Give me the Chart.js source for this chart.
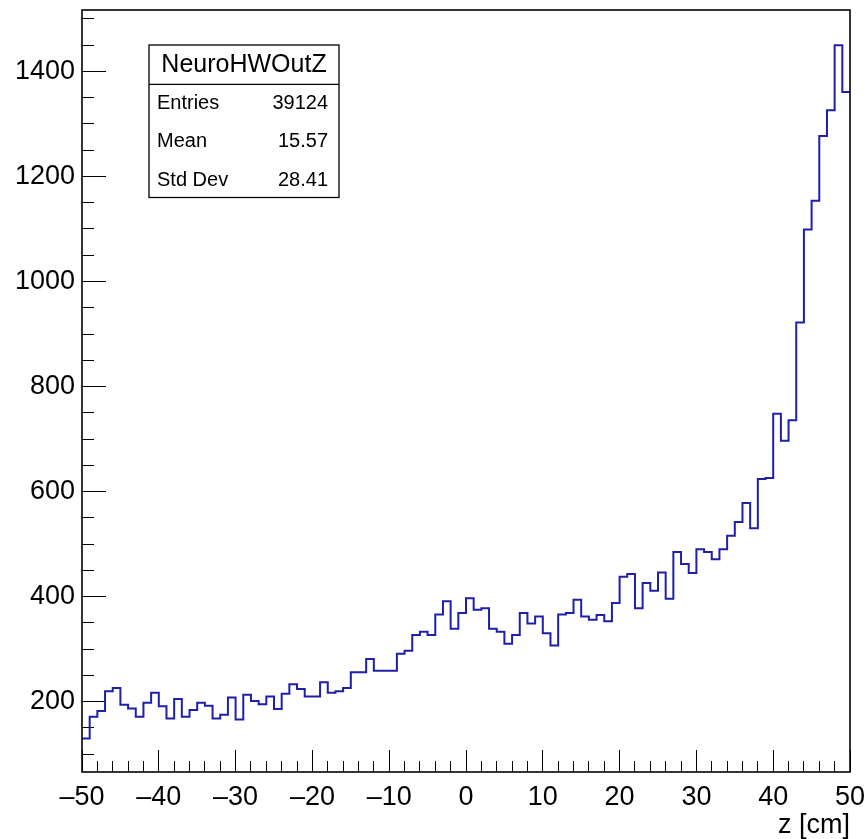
<!DOCTYPE html>
<html>
<head>
<meta charset="utf-8">
<title>NeuroHWOutZ</title>
<script src="https://cdn.jsdelivr.net/npm/chart.js@4.4.1/dist/chart.umd.min.js"></script>
<style>
html, body { margin: 0; padding: 0; background: #ffffff; }
#wrap { width: 867px; height: 839px; }
</style>
</head>
<body>
<div id="wrap"><canvas id="myChart" width="867" height="839"></canvas></div>
<script>
/* ---------- DATA ---------- */

const histName = "NeuroHWOutZ";
const zLow = -50;
const zHigh = 50;

// bin contents, 100 bins of 1 cm from -50 to 50
const counts = [
  130, 171, 182, 220, 226, 194, 187, 171, 198, 217,
  191, 168, 205, 171, 184, 198, 192, 168, 175, 208,
  166, 213, 201, 195, 210, 186, 215, 233, 224, 210,
  210, 237, 217, 220, 226, 256, 256, 281, 259, 259,
  259, 291, 297, 327, 333, 327, 366, 391, 339, 369,
  397, 375, 378, 339, 333, 310, 327, 369, 349, 362,
  330, 307, 366, 369, 394, 362, 356, 365, 353, 388,
  438, 443, 378, 426, 411, 446, 396, 485, 462, 445,
  490, 485, 471, 490, 516, 542, 578, 530, 624, 626,
  748, 697, 736, 922, 1099, 1154, 1277, 1326, 1450, 1361
];

const statLabels = ["Entries", "Mean", "Std Dev"];
const statValues = ["39124", "15.57", "28.41"];

const xMajorTicks = [-50, -40, -30, -20, -10, 0, 10, 20, 30, 40, 50];
const xTickLabels = ["\u201350", "\u201340", "\u201330", "\u201320", "\u201310", "0", "10", "20", "30", "40", "50"];
const yMajorTicks = [200, 400, 600, 800, 1000, 1200, 1400];
const yTickLabels = ["200", "400", "600", "800", "1000", "1200", "1400"];
const yMinorTicks = [100, 150, 200, 250, 300, 350, 400, 450, 500, 550, 600, 650, 700, 750,
  800, 850, 900, 950, 1000, 1050, 1100, 1150, 1200, 1250, 1300, 1350, 1400, 1450, 1500];

const xTitle = "z [cm]";
const yRange = [66, 1517];

/* ---------- BUILD POINTS ---------- */

const binWidth = (zHigh - zLow) / counts.length;
const points = counts.map((c, i) => ({ x: zLow + i * binWidth, y: c }));
points.push({ x: zHigh, y: counts[counts.length - 1] });

const FONT = "'Liberation Sans', Arial, Helvetica, sans-serif";
const lineColor = "#1f1faa";

/* ---------- PLUGINS ---------- */

const frameBox = {
  id: "frameBox",
  afterDraw(chart) {
    const { ctx, chartArea } = chart;
    ctx.save();
    ctx.strokeStyle = "#000";
    ctx.lineWidth = 1.6;
    ctx.strokeRect(chartArea.left, chartArea.top, chartArea.right - chartArea.left, chartArea.bottom - chartArea.top);
    ctx.restore();
  }
};

const statsBox = {
  id: "statsBox",
  afterDraw(chart) {
    const ctx = chart.ctx;
    const x0 = 149, y0 = 45, w = 190, h = 152.5;
    ctx.save();
    ctx.fillStyle = "#fff";
    ctx.fillRect(x0, y0, w, h);
    ctx.strokeStyle = "#000";
    ctx.lineWidth = 1.3;
    ctx.strokeRect(x0, y0, w, h);
    ctx.beginPath();
    ctx.moveTo(x0, 84.3);
    ctx.lineTo(x0 + w, 84.3);
    ctx.stroke();

    ctx.fillStyle = "#000";
    ctx.textBaseline = "middle";
    ctx.font = "25px " + FONT;
    ctx.textAlign = "center";
    ctx.fillText(histName, x0 + w / 2, 65);

    ctx.font = "20px " + FONT;
    const rowY = [103, 141, 180];
    statLabels.forEach((lab, i) => {
      ctx.textAlign = "left";
      ctx.fillText(lab, 157, rowY[i]);
      ctx.textAlign = "right";
      ctx.fillText(statValues[i], 328, rowY[i]);
    });
    ctx.restore();
  }
};

// keep the axes from asking for extra room around the plot
function noPad(s) {
  s.paddingTop = 0;
  s.paddingBottom = 0;
  s.paddingLeft = 0;
  s.paddingRight = 0;
}

/* ---------- CHART ---------- */

const ctx = document.getElementById("myChart").getContext("2d");

const tickFont = { family: FONT, size: 27 };

new Chart(ctx, {
  type: "line",
  data: {
    datasets: [{
      label: histName,
      data: points,
      stepped: true,
      borderColor: lineColor,
      borderWidth: 2,
      pointRadius: 0,
      fill: false,
      tension: 0
    }]
  },
  options: {
    responsive: false,
    animation: false,
    devicePixelRatio: 1,
    layout: { padding: { left: 0, top: 10, right: 17, bottom: 0 } },
    plugins: {
      legend: { display: false },
      tooltip: { enabled: false }
    },
    scales: {
      x: {
        type: "linear",
        position: "bottom",
        weight: 1,
        min: zLow,
        max: zHigh,
        afterBuildTicks: s => { s.ticks = xMajorTicks.map(v => ({ value: v })); },
        afterFit: s => { s.height = 67; noPad(s); },
        border: { display: false },
        grid: { drawOnChartArea: false, drawTicks: true, tickLength: -22, tickColor: "#000", tickWidth: 1 },
        ticks: {
          color: "#000",
          font: tickFont,
          padding: 31,
          maxRotation: 0,
          autoSkip: false,
          callback: (v, i) => xTickLabels[i]
        },
        title: {
          display: true,
          text: xTitle,
          align: "end",
          color: "#000",
          font: { family: FONT, size: 27, lineHeight: 1 },
          padding: { top: 0, bottom: 0 }
        }
      },
      xMinor: {
        type: "linear",
        position: "bottom",
        weight: 0,
        min: zLow,
        max: zHigh,
        afterFit: s => { s.height = 0; noPad(s); },
        border: { display: false },
        grid: { drawOnChartArea: false, drawTicks: true, tickLength: -11, tickColor: "#000", tickWidth: 1 },
        ticks: { stepSize: 2, display: false, autoSkip: false }
      },
      y: {
        type: "linear",
        position: "left",
        weight: 1,
        min: yRange[0],
        max: yRange[1],
        afterBuildTicks: s => { s.ticks = yMajorTicks.map(v => ({ value: v })); },
        afterFit: s => { s.width = 82; noPad(s); },
        border: { display: false },
        grid: { drawOnChartArea: false, drawTicks: true, tickLength: -24, tickColor: "#000", tickWidth: 1 },
        ticks: {
          color: "#000",
          font: tickFont,
          padding: 31,
          autoSkip: false,
          callback: (v, i) => yTickLabels[i]
        }
      },
      yMinor: {
        type: "linear",
        position: "left",
        weight: 0,
        min: yRange[0],
        max: yRange[1],
        afterBuildTicks: s => { s.ticks = yMinorTicks.map(v => ({ value: v })); },
        afterFit: s => { s.width = 0; noPad(s); },
        border: { display: false },
        grid: { drawOnChartArea: false, drawTicks: true, tickLength: -12, tickColor: "#000", tickWidth: 1 },
        ticks: { display: false, autoSkip: false }
      }
    }
  },
  plugins: [frameBox, statsBox]
});
</script>
</body>
</html>
